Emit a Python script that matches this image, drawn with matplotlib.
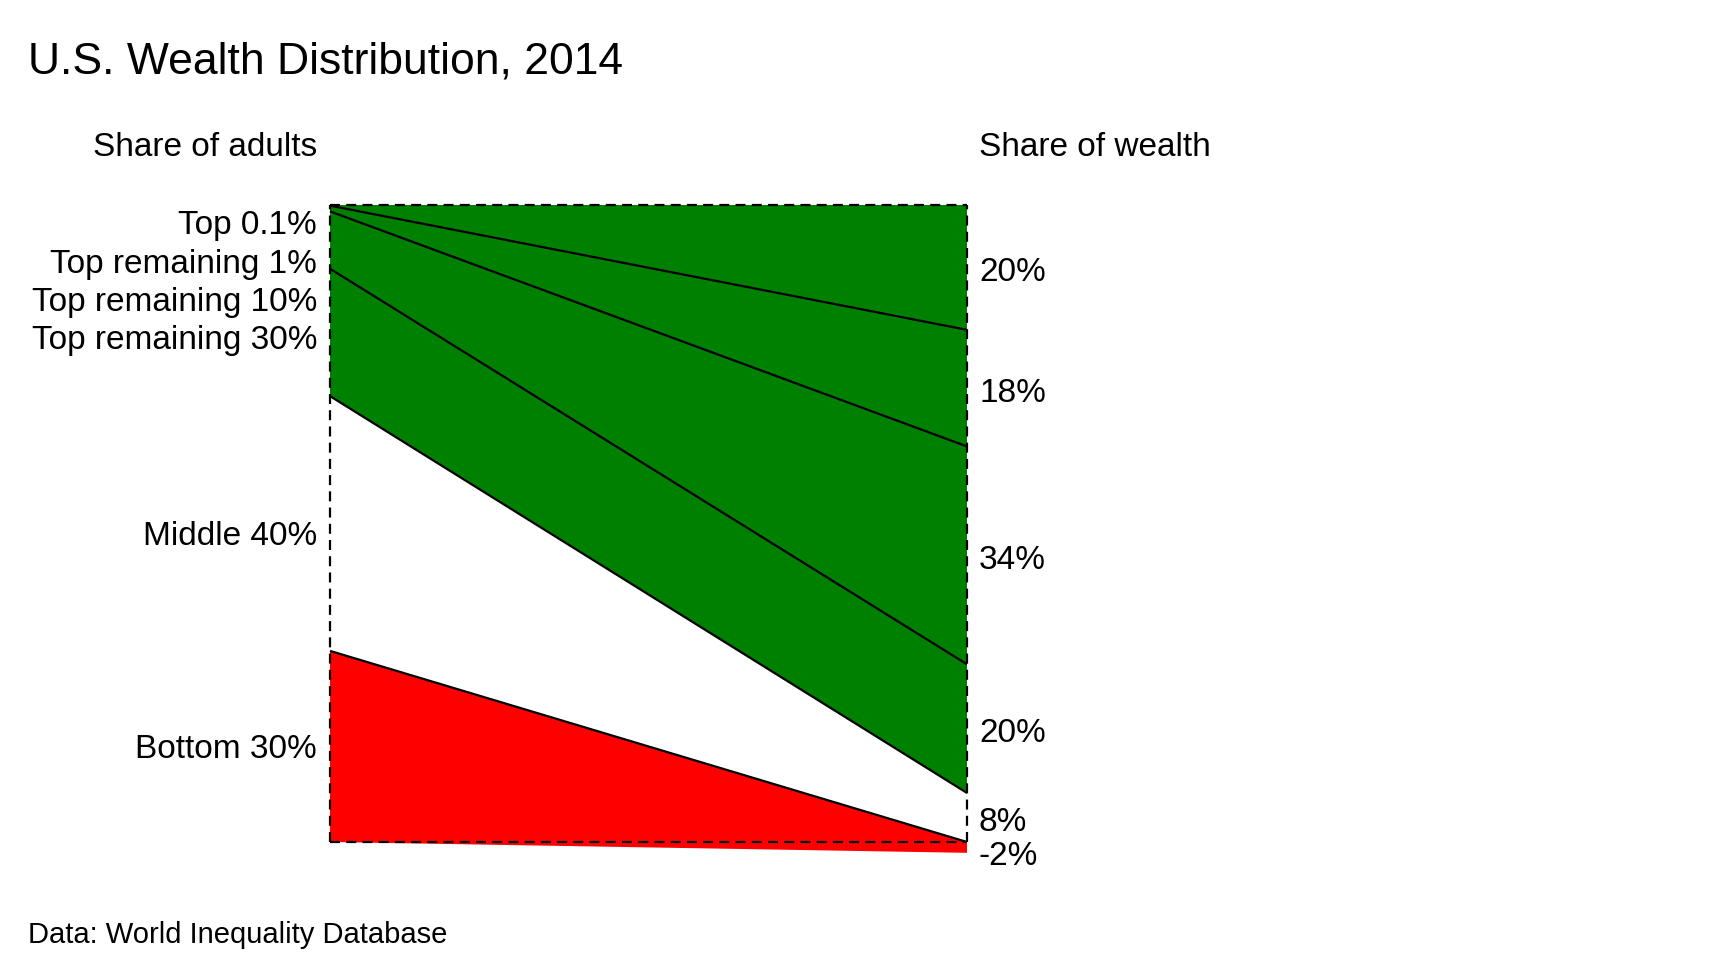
import matplotlib
matplotlib.use("Agg")
import matplotlib.pyplot as plt
import numpy as np

# ---- data ----
groups = ["Top 0.1%", "Top remaining 1%", "Top remaining 10%",
          "Top remaining 30%", "Middle 40%", "Bottom 30%"]
adult_share = [0.1, 0.9, 9.0, 20.0, 40.0, 30.0]
wealth_share = [19.6, 18.3, 34.2, 20.2, 7.7, -1.7]
colors = ["#008000", "#008000", "#008000", "#008000", "#ffffff", "#ff0000"]

title = "U.S. Wealth Distribution, 2014"
left_header = "Share of adults"
right_header = "Share of wealth"
source = "Data: World Inequality Database"

plt.rcParams['font.family'] = ['Liberation Sans', 'DejaVu Sans']

W, H, DPI = 1716, 964, 100
fig = plt.figure(figsize=(W / DPI, H / DPI), dpi=DPI)
fig.patch.set_facecolor("white")

# axes placed in pixel terms
x0, x1 = 330, 967
ytop, ybot = 205, 842
ax = fig.add_axes([x0 / W, 1 - ybot / H, (x1 - x0) / W, (ybot - ytop) / H])
ax.set_xlim(0, 1)
ax.set_ylim(0, 100)
ax.axis("off")

# stack from the bottom: bottom group first; negatives go below zero
n = len(groups)
order = list(range(n - 1, -1, -1))
L_lo, L_hi, R_lo, R_hi = {}, {}, {}, {}
lcum = 0.0
pos_cum = 0.0
neg_cum = 0.0
for i in order:
    L_lo[i] = lcum
    lcum += adult_share[i]
    L_hi[i] = lcum
    v = wealth_share[i]
    if v >= 0:
        R_lo[i] = pos_cum
        pos_cum += v
        R_hi[i] = pos_cum
    else:
        R_hi[i] = neg_cum
        neg_cum += v
        R_lo[i] = neg_cum

for i in range(n):
    xs = [0, 1, 1, 0]
    ys = [L_hi[i], R_hi[i], R_lo[i], L_lo[i]]
    ax.fill(xs, ys, color=colors[i], lw=0, clip_on=False, zorder=1)

# solid boundary lines between groups
for i in range(n - 1):
    ax.plot([0, 1], [L_lo[i], R_lo[i]],
            color="black", lw=1.6, solid_capstyle="butt", clip_on=False, zorder=3)

# dashed frame
dash = dict(color="black", lw=1.6, linestyle=(0, (4.5, 2.8)), clip_on=False, zorder=4)
ax.plot([0, 1], [100, 100], **dash)
ax.plot([0, 1], [0, 0], **dash)
ax.plot([0, 0], [0, 100], **dash)
ax.plot([1, 1], [0, 100], **dash)

fs = 24

# left labels, top four stacked with minimum spacing
centers_L = [(L_lo[i] + L_hi[i]) / 2 for i in range(n)]
ypos = []
prev = 100 - 2.8 + 6.0
for i in range(n):
    y = min(centers_L[i], prev - 6.0)
    ypos.append(y)
    prev = y
for i in range(n):
    dy = -3
    if groups[i].startswith("Middle"):
        dy = -13
    ax.annotate(groups[i], (0, ypos[i]), xytext=(-13, dy), textcoords="offset pixels",
                ha="right", va="center", fontsize=fs, color="black",
                annotation_clip=False)

# right labels
centers_R = [(R_lo[i] + R_hi[i]) / 2 for i in range(n)]
rpos = []
prev = 200
for i in range(n):
    y = min(centers_R[i], prev - 5.4)
    rpos.append(y)
    prev = y
for i in range(n):
    ax.annotate(f"{round(wealth_share[i])}%", (1, rpos[i]), xytext=(12, -5),
                textcoords="offset pixels", ha="left", va="center",
                fontsize=fs, color="black", annotation_clip=False)

# headers
ax.annotate(left_header, (0, 100), xytext=(-13, 57), textcoords="offset pixels",
            ha="right", va="center", fontsize=fs, annotation_clip=False)
ax.annotate(right_header, (1, 100), xytext=(12, 57), textcoords="offset pixels",
            ha="left", va="center", fontsize=fs, annotation_clip=False)

fig.text(28 / W, 1 - 62 / H, title, fontsize=32, ha="left", va="center")
fig.text(28 / W, 1 - 935 / H, source, fontsize=21, ha="left", va="center")

fig.savefig("out.png", dpi=DPI, facecolor="white")
